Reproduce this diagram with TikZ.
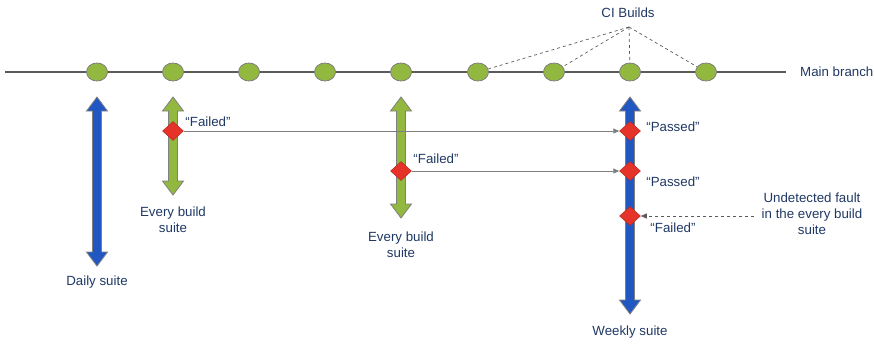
\documentclass[tikz,border=0pt]{standalone}
\usepackage{fontspec}
\setmainfont{Liberation Sans}
\usetikzlibrary{shapes.geometric,arrows.meta}
\definecolor{navy}{HTML}{1F3864}
\definecolor{branchgray}{HTML}{5A5A5A}
\definecolor{buildgreen}{HTML}{93B83F}
\definecolor{suiteblue}{HTML}{2157C2}
\definecolor{faultred}{HTML}{E5332A}
\definecolor{edgegray}{HTML}{7F7F7F}

% vertical double arrow: x, top tip, bottom tip, fill colour
\newcommand\suitearrow[4]{%
  \fill[#4,draw=edgegray,line width=0.8pt]
    (#1-4.5,#2+14) -- (#1-10.5,#2+14) -- (#1,#2) -- (#1+10.5,#2+14) -- (#1+4.5,#2+14)
    -- (#1+4.5,#3-14) -- (#1+10.5,#3-14) -- (#1,#3) -- (#1-10.5,#3-14) -- (#1-4.5,#3-14) -- cycle;}

\begin{document}
\begin{tikzpicture}[x=1pt,y=-1pt,
  lbl/.style={text=navy,font=\fontsize{13.3}{16}\selectfont,inner sep=1pt},
  build/.style={ellipse,draw=edgegray,line width=0.8pt,fill=buildgreen,minimum width=21,minimum height=18,inner sep=0},
  verdict/.style={diamond,draw=faultred!80!black,line width=0.5pt,fill=faultred,minimum width=21,minimum height=19,inner sep=0},
  link/.style={draw=edgegray,line width=0.9pt,-{Triangle[length=6,width=5]}},
  pointer/.style={draw=branchgray,dashed,line width=0.7pt},
]
\useasboundingbox (0,0) rectangle (874,343);

% main branch with CI builds
\coordinate (mstart) at (5,72);
\coordinate (mend) at (786,72);
\draw[branchgray,line width=2.8pt] (mstart) -- (mend);
\node[lbl,anchor=west] (main) at (799,72) {Main branch};
\foreach \i/\x in {1/97,2/173,3/249,4/325,5/401,6/478,7/554,8/630,9/706}
  \node[build] (b\i) at (\x,72) {};

\node[lbl] (ci) at (628,13) {CI Builds};
\coordinate (apex) at (629,27);
\foreach \i in {6,7,8,9}
  \draw[pointer] (apex) -- (b\i);

% test suites
\suitearrow{97}{97}{266}{suiteblue}
\suitearrow{173}{97}{195}{buildgreen}
\suitearrow{401}{97}{218}{buildgreen}
\suitearrow{630}{97}{314}{suiteblue}

\node[lbl] (daily) at (97,282) {Daily suite};
\node[lbl,align=center] (every1) at (173,220) {Every build\\suite};
\node[lbl,align=center] (every2) at (401,245) {Every build\\suite};
\node[lbl] (weekly) at (630,332) {Weekly suite};

% verdicts
\node[verdict] (d1) at (173,131) {};
\node[verdict] (d2) at (401,171) {};
\node[verdict] (d3) at (630,131) {};
\node[verdict] (d4) at (630,171) {};
\node[verdict] (d5) at (630,216) {};

\node[lbl] (f1) at (208,122) {“Failed”};
\node[lbl] (f2) at (436,159) {“Failed”};
\node[lbl] (p1) at (673,127) {“Passed”};
\node[lbl] (p2) at (673,182) {“Passed”};
\node[lbl] (f3) at (673,228) {“Failed”};

\draw[link] (d1) -- (d3);
\draw[link] (d2) -- (d4);

\node[lbl,align=center] (fault) at (812,214) {Undetected fault\\in the every build\\suite};
\coordinate (fstart) at (754,216);
\draw[pointer,-{Triangle[length=6,width=5]}] (fstart) -- (d5);
\end{tikzpicture}
\end{document}
